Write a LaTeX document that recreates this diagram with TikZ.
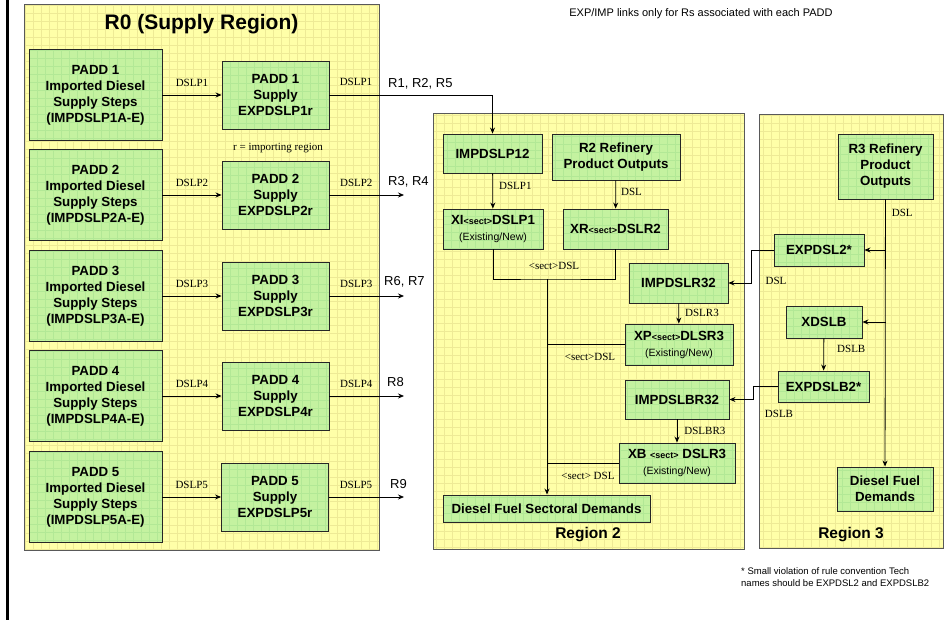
\documentclass[tikz,border=0pt]{standalone}
\usepackage{fontspec}
\setmainfont{Liberation Sans}
\newfontfamily\lblfont{Liberation Serif}
\usepackage{tikz}
\usetikzlibrary{arrows.meta}

\definecolor{RegYellow}{RGB}{255,255,168}
\definecolor{RegGrid}{RGB}{238,234,150}
\definecolor{BoxGreen}{RGB}{196,242,160}
\definecolor{BoxGrid}{RGB}{178,232,150}

\newcommand{\sectag}{{\fontsize{9}{10}\selectfont<sect>}}
\newcommand{\exnew}{{\mdseries\fontsize{10.5}{13}\selectfont(Existing/New)}}

\tikzset{
	region/.style = {rectangle, draw=black!65, line width=0.9pt, fill=RegYellow, inner sep=0pt,
		path picture={\draw[RegGrid, line width=0.4pt] (path picture bounding box.south west)
			grid[step=8pt] (path picture bounding box.north east);}},
	box/.style = {rectangle, draw=black!85, line width=0.9pt, fill=BoxGreen, align=center, inner sep=0pt,
		font=\fontsize{13.3}{16}\selectfont\bfseries,
		path picture={\draw[BoxGrid, line width=0.4pt] (path picture bounding box.south west)
			grid[step=8pt] (path picture bounding box.north east);}},
	lbl/.style = {font=\lblfont\fontsize{11}{12}\selectfont, inner sep=1pt},
	rlab/.style = {font=\fontsize{13}{15}\selectfont, inner sep=0pt, anchor=west}
}

\begin{document}
\begin{tikzpicture}[x=1pt, y=-1pt]
	\useasboundingbox (0,0) rectangle (951,620);
	\draw[line width=3pt] (7,0) -- (7,620);

	% region panels
	\node (R0) [region, minimum width=355, minimum height=546] at (201.5,277) {};
	\node (RG2) [region, minimum width=311, minimum height=436] at (588.5,331) {};
	\node (RG3) [region, minimum width=184, minimum height=434] at (851,331) {};
	\node (T0) [font=\fontsize{21}{25}\selectfont\bfseries] at (201.5,24) {R0 (Supply Region)};
	\node (T2) [font=\fontsize{15.5}{18}\selectfont\bfseries] at (588,535) {Region 2};
	\node (T3) [font=\fontsize{15.5}{18}\selectfont\bfseries] at (851,535) {Region 3};
	\node (note) [font=\fontsize{11}{13}\selectfont] at (701,14) {EXP/IMP links only for Rs associated with each PADD};
	\node (star) [font=\fontsize{9.5}{12}\selectfont, align=left, anchor=north west, inner sep=0pt] at (741,567)
		{* Small violation of rule convention Tech\\names should be EXPDSL2 and EXPDSLB2};

	\begin{scope}[every node/.style = {box}]
		% R0 supply steps
		\node (I1) [minimum width=133, minimum height=91] at (95.5,95) {PADD 1\\Imported Diesel\\Supply Steps\\(IMPDSLP1A-E)};
		\node (I2) [minimum width=133, minimum height=91] at (95.5,195) {PADD 2\\Imported Diesel\\Supply Steps\\(IMPDSLP2A-E)};
		\node (I3) [minimum width=133, minimum height=91] at (95.5,296) {PADD 3\\Imported Diesel\\Supply Steps\\(IMPDSLP3A-E)};
		\node (I4) [minimum width=133, minimum height=91] at (95.5,396) {PADD 4\\Imported Diesel\\Supply Steps\\(IMPDSLP4A-E)};
		\node (I5) [minimum width=133, minimum height=91] at (95.5,497) {PADD 5\\Imported Diesel\\Supply Steps\\(IMPDSLP5A-E)};
		\node (S1) [minimum width=107, minimum height=68] at (275.5,95) {PADD 1\\Supply\\EXPDSLP1r};
		\node (S2) [minimum width=107, minimum height=68] at (275.5,195) {PADD 2\\Supply\\EXPDSLP2r};
		\node (S3) [minimum width=107, minimum height=68] at (275.5,296) {PADD 3\\Supply\\EXPDSLP3r};
		\node (S4) [minimum width=107, minimum height=68] at (275.5,396) {PADD 4\\Supply\\EXPDSLP4r};
		\node (S5) [minimum width=107, minimum height=68] at (275,497) {PADD 5\\Supply\\EXPDSLP5r};
		% region 2
		\node (P12) [minimum width=99, minimum height=39] at (492.5,153.5) {IMPDSLP12};
		\node (R2R) [minimum width=128, minimum height=46] at (616,157) {R2 Refinery\\Product Outputs};
		\node (XI) [minimum width=100, minimum height=40] at (493,229) {XI\sectag DSLP1\\\exnew};
		\node (XR) [minimum width=105, minimum height=40] at (615.5,229) {XR\sectag DSLR2};
		\node (R32) [minimum width=99, minimum height=40] at (678.5,283) {IMPDSLR32};
		\node (XP) [minimum width=108, minimum height=41] at (679,344.5) {XP\sectag DLSR3\\\exnew};
		\node (BR32) [minimum width=104, minimum height=39] at (677,399.5) {IMPDSLBR32};
		\node (XB) [minimum width=116, minimum height=40] at (677,463) {XB \sectag{} DSLR3\\\exnew};
		\node (DFSD) [minimum width=207, minimum height=27] at (546.5,508.5) {Diesel Fuel Sectoral Demands};
		% region 3
		\node (R3R) [minimum width=95, minimum height=65] at (885.5,166.5) {R3 Refinery\\Product\\Outputs};
		\node (E2) [minimum width=90, minimum height=32] at (819,250) {EXPDSL2*};
		\node (XDB) [minimum width=76, minimum height=32] at (824,322) {XDSLB};
		\node (EB2) [minimum width=91, minimum height=31] at (823.5,386.5) {EXPDSLB2*};
		\node (DFD) [minimum width=96, minimum height=44] at (885,489) {Diesel Fuel\\Demands};
	\end{scope}

	\coordinate (o2) at (404,195);
	\coordinate (o3) at (404,296);
	\coordinate (o4) at (404,396);
	\coordinate (o5) at (404,497);
	\coordinate (m1) at (547,279);

	\node (n1) [rlab] at (388,84) {R1, R2, R5};
	\node (n2) [rlab] at (388,182) {R3, R4};
	\node (n3) [rlab] at (384,282) {R6, R7};
	\node (n4) [rlab] at (387,382) {R8};
	\node (n5) [rlab] at (390,484) {R9};

	\begin{scope}[>={Stealth[length=6pt, width=5pt]}, line width=0.8pt,
			every edge/.style={draw=black, line width=0.8pt},
			every node/.style={lbl}]
		\node (rr) at (278,148) {r = importing region};
		\path [->] (I1) edge node (a1) [above=7pt] {DSLP1} (S1);
		\path [->] (I2) edge node (a2) [above=7pt] {DSLP2} (S2);
		\path [->] (I3) edge node (a3) [above=7pt] {DSLP3} (S3);
		\path [->] (I4) edge node (a4) [above=7pt] {DSLP4} (S4);
		\path [->] (I5) edge node (a5) [above=7pt] {DSLP5} (S5);

		\draw [->] (S1) -| (P12);
		\node (b1) at (356,82) {DSLP1};
		\path [->] (S2) edge node (b2) [above=7pt, pos=0.36] {DSLP2} (o2);
		\path [->] (S3) edge node (b3) [above=7pt, pos=0.36] {DSLP3} (o3);
		\path [->] (S4) edge node (b4) [above=7pt, pos=0.36] {DSLP4} (o4);
		\path [->] (S5) edge node (b5) [above=7pt, pos=0.36] {DSLP5} (o5);

		\path [->] (P12) edge node (c1) [right=5pt, pos=0.35] {DSLP1} (XI);
		\path [->] (R2R) edge node (c2) [right=4pt, pos=0.4] {DSL} (XR);
		\draw (XI) |- (m1) -| (XR);
		\node (c3) at (554,266) {<sect>DSL};
		\draw [->] (m1) -- (m1 |- DFSD.north);
		\draw (XP) -- (XP -| m1);
		\node (c4) at (590,357) {<sect>DSL};
		\draw (XB) -- (XB -| m1);
		\node (c5) at (588,476) {<sect> DSL};
		\path [->] (R32) edge node (c6) [right=5pt, pos=0.45] {DSLR3} (XP);
		\path [->] (BR32) edge node (c7) [right=6pt, pos=0.5] {DSLBR3} (XB);

		\draw [->] (E2.west) -- ++(-22,0) |- (R32);
		\node (c8) at (776,281) {DSL};
		\draw [->] (EB2.west) -- ++(-24,0) |- (BR32);
		\node (c9) at (779,414) {DSLB};

		\path [->] (R3R) edge node (c10) [right=5pt, pos=0.05] {DSL} (DFD);
		\draw [->] (R3R.south |- E2) -- (E2);
		\draw [->] (R3R.south |- XDB) -- (XDB);
		\path [->] (XDB) edge node (c11) [right=12pt, pos=0.33] {DSLB} (EB2);
	\end{scope}
\end{tikzpicture}
\end{document}
